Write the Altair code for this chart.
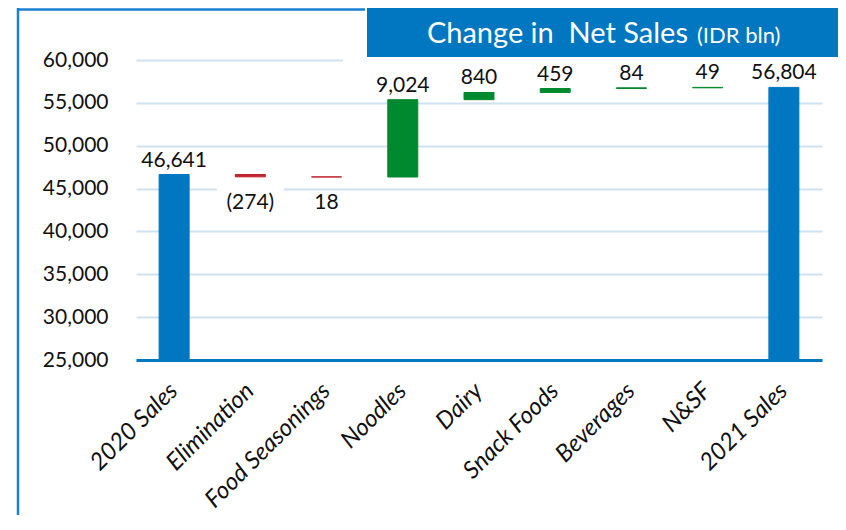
import altair as alt
import pandas as pd

# ---- data ----
categories = ["2020 Sales", "Elimination", "Food Seasonings", "Noodles", "Dairy",
              "Snack Foods", "Beverages", "N&SF", "2021 Sales"]
values = [46641, -274, -18, 9024, 840, 459, 84, 49, 56804]
kinds = ["total", "decrease", "decrease", "increase", "increase",
         "increase", "increase", "increase", "total"]
labels = ["46,641", "(274)", "18", "9,024", "840", "459", "84", "49", "56,804"]
y_ticks = [25000, 30000, 35000, 40000, 45000, 50000, 55000, 60000]

rows = []
running = 0
for c, v, k, lab in zip(categories, values, kinds, labels):
    if k == "total":
        start, end = 0, v
        running = v
    else:
        start, end = running, running + v
        running = end
    rows.append(dict(category=c, start=start, end=end, top=max(start, end),
                     bottom=min(start, end), kind=k, label=lab))
df = pd.DataFrame(rows)
one = pd.DataFrame({"k": [0]})

FONT = "Lato"
TXT = "#111111"
BLUE = "#0077c0"

x = alt.X("category:N", sort=categories,
          scale=alt.Scale(paddingInner=0, paddingOuter=0),
          axis=alt.Axis(title=None, labelAngle=315, labelAlign="right",
                        labelBaseline="middle", labelPadding=27, labelFont=FONT,
                        labelFontSize=24, labelFontStyle="italic", labelColor=TXT,
                        ticks=False, domainColor=BLUE, domainWidth=3, grid=False,
                        zindex=1))
y_scale = alt.Scale(domain=[25000, 60000], nice=False, zero=False)
y_axis = alt.Axis(title=None, values=y_ticks, format=",d", labelFont=FONT,
                  labelFontSize=21, labelPadding=28, labelColor=TXT, ticks=False,
                  domain=False, gridColor="#cfe2f3", gridWidth=2)

cscale = alt.Scale(domain=["total", "decrease", "increase"],
                   range=[BLUE, "#c0262d", "#00892e"])

base = alt.Chart(df)

bars = base.mark_bar(size=30, clip=True, strokeWidth=1).encode(
    x=x,
    y=alt.Y("end:Q", scale=y_scale, axis=y_axis),
    y2="start:Q",
    color=alt.Color("kind:N", scale=cscale, legend=None),
    stroke=alt.Stroke("kind:N", scale=cscale, legend=None),
)

# white label box behind the bracketed label (breaks the gridline as in the reference)
label_box = base.transform_filter("indexof(datum.label, '(') == 0").mark_bar(
    size=67, color="white", yOffset=9, y2Offset=40
).encode(x=x, y=alt.Y("bottom:Q", scale=y_scale), y2="bottom:Q")

above = base.transform_filter("datum.kind != 'decrease'").mark_text(
    font=FONT, fontSize=21, baseline="middle", dy=-14, color=TXT
).encode(x=x, y=alt.Y("top:Q", scale=y_scale), text="label:N")

below = base.transform_filter("datum.kind == 'decrease'").mark_text(
    font=FONT, fontSize=21, baseline="middle", dy=26, color=TXT
).encode(x=x, y=alt.Y("bottom:Q", scale=y_scale), text="label:N")

white_strip = alt.Chart(one).mark_rect(color="white").encode(
    x=alt.value(207), x2=alt.value(702), y=alt.value(-52), y2=alt.value(3))
title_box = alt.Chart(one).mark_rect(color=BLUE).encode(
    x=alt.value(231), x2=alt.value(702), y=alt.value(-52), y2=alt.value(-3))
title_main = alt.Chart(one).mark_text(
    text="Change in\u00a0 Net Sales", align="right", baseline="alphabetic",
    font=FONT, fontSize=29, color="white"
).encode(x=alt.value(552), y=alt.value(-17))
title_unit = alt.Chart(one).mark_text(
    text="(IDR bln)", align="left", baseline="alphabetic",
    font=FONT, fontSize=22, color="white"
).encode(x=alt.value(561), y=alt.value(-17))

frame_left = alt.Chart(one).mark_rule(color="#1a80d0", strokeWidth=2.5).encode(
    x=alt.value(-118), y=alt.value(-52), y2=alt.value(455))
frame_top = alt.Chart(one).mark_rule(color="#1a80d0", strokeWidth=2.5).encode(
    x=alt.value(-119), x2=alt.value(229), y=alt.value(-50.5))

chart = alt.layer(
    white_strip, label_box, bars, above, below,
    title_box, title_main, title_unit, frame_left, frame_top
).properties(
    width=686, height=300,
    padding={"left": 128, "top": 52, "right": 16, "bottom": 155},
    autosize=alt.AutoSizeParams(type="none"),
    background="white",
).configure_view(stroke=None)

chart.save("out.html", embed_options={"renderer": "svg", "actions": False})
